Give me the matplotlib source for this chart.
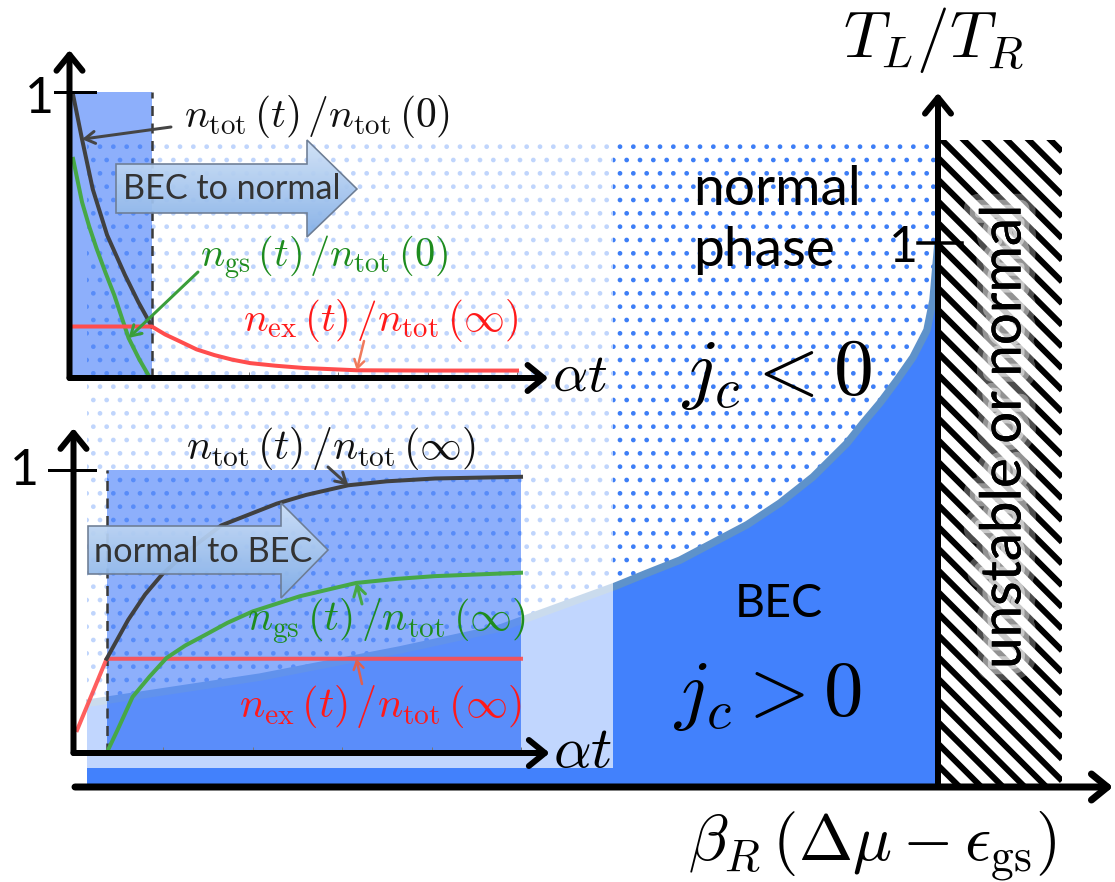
import numpy as np
import matplotlib
matplotlib.use('Agg')
import matplotlib.pyplot as plt
import matplotlib.patheffects as pe
from matplotlib.collections import LineCollection
from matplotlib.colors import to_rgb
from matplotlib.patches import Rectangle, Polygon, PathPatch
from matplotlib.path import Path

W, H, DPI = 1115, 882, 80
PT = 72.0 / DPI   # one pixel in points

plt.rcParams['mathtext.fontset'] = 'cm'
plt.rcParams['font.family'] = ['Lato', 'DejaVu Sans']

# phase boundary T_L/T_R versus beta_R (dmu - e_gs), j_c = 0 on it
bound_x = np.array([-8.51, -6.78, -5.38, -4.38, -3.23, -2.91, -2.58, -2.25, -1.91,
                    -1.58, -1.25, -0.91, -0.75, -0.58, -0.41, -0.25, -0.11, -0.05, 0.0])
bound_T = np.array([0.154, 0.202, 0.252, 0.292, 0.369, 0.393, 0.417, 0.449, 0.482,
                    0.522, 0.570, 0.632, 0.669, 0.706, 0.748, 0.790, 0.840, 0.895, 1.0])
T_TOP = 1.19      # top of the shaded regions
X_UNST = 1.24     # right end of the unstable strip

# upper inset: BEC -> normal
up_t0 = 0.92
up_tot_t = np.array([0.04, 0.14, 0.26, 0.42, 0.62, 0.77, 0.92])
up_tot = np.array([0.99, 0.835, 0.66, 0.50, 0.36, 0.265, 0.18])
up_gs_t = np.array([0.04, 0.14, 0.22, 0.30, 0.40, 0.50, 0.58, 0.66, 0.78, 0.90])
up_gs = np.array([0.766, 0.615, 0.53, 0.455, 0.37, 0.29, 0.215, 0.14, 0.065, 0.0])
up_ex_t = np.array([0.04, 0.92, 1.07, 1.22, 1.42, 1.62, 1.82, 2.02, 2.30, 2.62, 3.21,
                    4.0, 5.0])
up_ex = np.array([0.18, 0.18, 0.152, 0.13, 0.10, 0.08, 0.064, 0.052, 0.043, 0.035,
                  0.027, 0.026, 0.026])
up_ticks = [2, 3, 4, 5]

# lower inset: normal -> BEC
lo_t0 = 0.37
lo_t_end = 5.0
lo_tot_t = np.array([0.37, 0.61, 0.80, 0.99, 1.30, 1.65, 2.27, 2.60, 3.07, 3.50,
                     4.04, 5.0])
lo_tot = np.array([0.333, 0.47, 0.56, 0.631, 0.72, 0.804, 0.881, 0.912, 0.946, 0.960,
                   0.970, 0.976])
lo_gs_t = np.array([0.37, 0.49, 0.66, 0.85, 1.04, 1.25, 1.47, 1.72, 2.00, 2.53, 3.16,
                    3.60, 4.04, 5.0])
lo_gs = np.array([0.0, 0.08, 0.198, 0.27, 0.336, 0.38, 0.417, 0.46, 0.50, 0.554, 0.601,
                  0.615, 0.625, 0.637])
lo_ex_t = np.array([0.04, 0.37, 5.0])
lo_ex = np.array([0.081, 0.333, 0.333])
lo_ticks = [1, 2, 3, 4, 5]

BLUE = '#4281fc'
DOT = '#3d7ef6'
BAND = '#5e92ca'
SHADE = '#6392fa'
C_TOT, C_GS, C_EX = '#404040', '#46a846', '#ff4d4d'
T_GS, T_EX = '#1e8c1e', '#ff1a1a'

fig = plt.figure(figsize=(W / DPI, H / DPI), dpi=DPI)


def axes_at(box, origin, scale, z):
    # box in pixels (left, right, top, bottom); origin/scale map data -> pixels
    x0, x1, ytop, ybot = box
    a = fig.add_axes([x0 / W, 1 - ybot / H, (x1 - x0) / W, (ybot - ytop) / H], zorder=z)
    a.set_xlim((x0 - origin[0]) / scale[0], (x1 - origin[0]) / scale[0])
    a.set_ylim((origin[1] - ybot) / scale[1], (origin[1] - ytop) / scale[1])
    a.set_autoscale_on(False)
    a.set_axis_off()
    return a


ax = axes_at((0, W, 0, H), (938, 787), (100, 544), 0)
canvas = axes_at((0, W, 0, H), (0, 0), (1, -1), 1)
ax_lo = axes_at((0, 640, 400, 790), (73.5, 753), (89.5, 283), 2)
ax_up = axes_at((0, 640, 20, 410), (69.5, 378), (89.5, 286), 3)
PX = canvas.transData
renderer = fig.canvas.get_renderer()


def arrow(a, p0, p1, lw, hl=16, hw=13, color='black', coords='data', z=6):
    a.annotate('', xy=p1, xytext=p0, xycoords=coords, textcoords=coords,
               annotation_clip=False, zorder=z,
               arrowprops=dict(arrowstyle=f'->,head_length={hl * PT},head_width={hw * PT}',
                               lw=lw * PT, color=color, shrinkA=0, shrinkB=0,
                               mutation_scale=1, capstyle='round', joinstyle='round'))


def pointer(a, start_px, xy, color, lw=3, hl=10, hw=6):
    a.annotate('', xy=xy, xycoords='data', xytext=start_px, textcoords=PX,
               annotation_clip=False, zorder=7,
               arrowprops=dict(arrowstyle=f'->,head_length={hl * PT},head_width={hw * PT}',
                               lw=lw * PT, color=color, shrinkA=0, shrinkB=0,
                               mutation_scale=1))


def label(a, s, pos, width=None, height=None, size=40, ha='center', va='center', **kw):
    t = a.text(pos[0], pos[1], s, transform=PX, ha=ha, va=va, fontsize=size * PT,
               zorder=8, **kw)
    if width or height:
        bb = t.get_window_extent(renderer)
        cur = bb.width if width else bb.height
        t.set_fontsize(t.get_fontsize() * (width or height) / cur)
    return t


def block_arrow(a, x0, xb, xt, by, hy, ty, text, base, width):
    # body from x0 to xb, head from xb to tip xt (pixels)
    verts_px = [(x0, by[0]), (xb, by[0]), (xb, hy[0]), (xt, ty),
                (xb, hy[1]), (xb, by[1]), (x0, by[1])]
    verts = a.transData.inverted().transform(PX.transform(verts_px))
    poly = Polygon(verts, closed=True, facecolor='none', edgecolor='#6d7d94',
                   lw=1.6 * PT, zorder=6)
    a.add_patch(poly)
    top, bot = np.array(to_rgb('#cfe1f7')), np.array(to_rgb('#82aee6'))
    g = np.linspace(0, 1, 64)[:, None, None]
    img = top + (bot - top) * g
    im = a.imshow(img, extent=(verts[:, 0].min(), verts[:, 0].max(),
                               verts[:, 1].min(), verts[:, 1].max()),
                  origin='upper', aspect='auto', interpolation='bilinear',
                  alpha=0.94, zorder=5.9)
    im.set_clip_path(poly)
    label(a, text, ((x0 + xt) / 2 - 5, base), width=width, va='baseline', color='#333333')


# ---- main phase diagram ----
with plt.rc_context({'hatch.linewidth': 2.0 * PT}):
    ax.fill(np.r_[bound_x[0], 0.0, bound_x[::-1]], np.r_[T_TOP, T_TOP, bound_T[::-1]],
            facecolor='white', edgecolor=DOT, lw=0, hatch='.', zorder=1)
ax.fill_between(bound_x, 0, bound_T, facecolor=BLUE, lw=0, zorder=2)
ax.plot(bound_x, bound_T, color=BAND, lw=7.5 * PT, zorder=3, solid_capstyle='butt')

# unstable strip, 45 degree stripes
strip = Rectangle((0, 0), X_UNST, T_TOP, facecolor='white', lw=0, zorder=2)
ax.add_patch(strip)
k = 100 / 544
offs = np.arange(0, T_TOP + k * X_UNST + 0.1, 0.217 * k)
lc = LineCollection([[(0, c), (X_UNST, c - k * X_UNST)] for c in offs],
                    colors='black', linewidths=6 * PT, zorder=3)
ax.add_collection(lc)
lc.set_clip_path(strip)

arrow(ax, (-8.63, 0), (1.75, 0), lw=7)
arrow(ax, (0, 0), (0, 1.276), lw=6)
ax.plot([-0.2, 0.24], [1.0, 1.0], color='black', lw=3.5 * PT, zorder=6)

label(ax, '1', (903, 262), size=50, va='baseline')
label(ax, r'$T_L/T_R$', (933, 40), width=182)
label(ax, r'$\beta_R\,(\Delta\mu-\epsilon_{\rm gs})$', (872, 846), width=370)
t_norm = label(ax, 'normal', (693, 205), width=168, ha='left', va='baseline')
label(ax, 'phase', (693, 266), size=t_norm.get_fontsize() / PT, ha='left', va='baseline')
label(ax, r'$j_c<0$', (777, 375), width=193)
label(ax, 'BEC', (779, 617), width=88, va='baseline')
label(ax, r'$j_c>0$', (768, 697), width=191)
label(ax, 'unstable or normal', (1005, 437), height=465, rotation=90,
      path_effects=[pe.withStroke(linewidth=30 * PT, foreground='white', alpha=0.3),
                    pe.withStroke(linewidth=18 * PT, foreground='white', alpha=0.4),
                    pe.withStroke(linewidth=8 * PT, foreground='white', alpha=0.5),
                    pe.Normal()])

# ---- light veil behind the insets, leaving the shaded intervals clear ----
lo_box = PX.inverted().transform(ax_lo.transData.transform([(lo_t0, 0), (lo_t_end, 1)]))
up_box = PX.inverted().transform(ax_up.transData.transform([(0, 0), (up_t0, 1)]))
vx0, vx1, vy0, vy1 = 87, 613, 140, 768


def ring(x0, x1, y0, y1, rev=False):
    pts = [(x0, y0), (x1, y0), (x1, y1), (x0, y1)]
    if rev:
        pts = pts[::-1]
    return pts + [pts[0]], [Path.MOVETO, Path.LINETO, Path.LINETO, Path.LINETO, Path.CLOSEPOLY]


parts = [ring(vx0, vx1, vy0, vy1),
         ring(lo_box[0, 0], lo_box[1, 0], lo_box[1, 1], lo_box[0, 1], rev=True),
         ring(max(up_box[0, 0], vx0), up_box[1, 0], vy0, min(up_box[0, 1], vy1), rev=True)]
verts = sum([p[0] for p in parts], [])
codes = sum([p[1] for p in parts], [])
canvas.add_patch(PathPatch(Path(verts, codes), facecolor='white', alpha=0.68, lw=0))

# ---- upper inset ----
ax_up.add_patch(Rectangle((0, 0), up_t0, 1, facecolor=SHADE, alpha=0.73, lw=0, zorder=1))
ax_up.plot([up_t0, up_t0], [0, 1], color='#3a3a3a', lw=2.5 * PT, ls=(0, (4, 3)), zorder=2)
ax_up.plot(up_tot_t, up_tot, color=C_TOT, lw=4 * PT, zorder=3)
ax_up.plot(up_gs_t, up_gs, color=C_GS, lw=4 * PT, zorder=3)
ax_up.plot(up_ex_t, up_ex, color=C_EX, lw=4 * PT, zorder=3.5)
ax_up.vlines(up_ticks, 0, 0.02, color='#777777', lw=1 * PT, zorder=3)
arrow(ax_up, (0, 0), (0, 1.147), lw=6)
arrow(ax_up, (0, 0), (5.35, 0), lw=6)
ax_up.plot([-0.16, 0.285], [1, 1], color='black', lw=3 * PT, zorder=6)
label(ax_up, '1', (39, 113), size=50, va='baseline')
label(ax_up, r'$\alpha t$', (580, 376), width=56)
block_arrow(ax_up, 116, 307, 357, (164, 213), (140, 237), 189, 'BEC to normal', 199, 218)
label(ax_up, r'$n_{\rm tot}\,(t)\,/n_{\rm tot}\,(0)$', (317, 116), width=266, color='#111111')
label(ax_up, r'$n_{\rm gs}\,(t)\,/n_{\rm tot}\,(0)$', (324, 258), width=248, color=T_GS)
label(ax_up, r'$n_{\rm ex}\,(t)\,/n_{\rm tot}\,(\infty)$', (380, 320), width=275, color=T_EX)
pointer(ax_up, (171, 127), (up_tot_t[1], up_tot[1]), '#454545')
pointer(ax_up, (198, 272), (up_gs_t[7], up_gs[7]), '#3a9e3a')
pointer(ax_up, (364, 341), (up_ex_t[10], up_ex[10]), '#f07a5c', lw=2.5, hl=8, hw=5)

# ---- lower inset ----
ax_lo.add_patch(Rectangle((lo_t0, 0), lo_t_end - lo_t0, 1, facecolor=SHADE, alpha=0.73,
                          lw=0, zorder=1))
ax_lo.plot([lo_t0, lo_t0], [0, 1], color='#3a3a3a', lw=2.5 * PT, ls=(0, (4, 3)), zorder=2)
ax_lo.plot(lo_ex_t, lo_ex, color=C_EX, lw=4 * PT, zorder=3, alpha=0.9)
ax_lo.plot(lo_gs_t, lo_gs, color=C_GS, lw=4 * PT, zorder=3.2)
ax_lo.plot(lo_tot_t, lo_tot, color=C_TOT, lw=4 * PT, zorder=3.4)
ax_lo.vlines(lo_ticks, 0, 0.02, color='#777777', lw=1 * PT, zorder=3)
arrow(ax_lo, (0, 0), (0, 1.148), lw=6)
arrow(ax_lo, (0, 0), (5.32, 0), lw=6)
ax_lo.plot([-0.27, 0.24], [1, 1], color='black', lw=3 * PT, zorder=6)
label(ax_lo, '1', (24, 485), size=50, va='baseline')
label(ax_lo, r'$\alpha t$', (583, 750), width=60)
block_arrow(ax_lo, 88, 281, 328, (526, 574), (503, 598), 550, 'normal to BEC', 562, 219)
label(ax_lo, r'$n_{\rm tot}\,(t)\,/n_{\rm tot}\,(\infty)$', (331, 449), width=290, color='#111111')
label(ax_lo, r'$n_{\rm gs}\,(t)\,/n_{\rm tot}\,(\infty)$', (386, 621), width=279, color=T_GS)
label(ax_lo, r'$n_{\rm ex}\,(t)\,/n_{\rm tot}\,(\infty)$', (380, 707), width=283, color=T_EX)
pointer(ax_lo, (328, 467), (lo_tot_t[8], lo_tot[8]), '#454545')
pointer(ax_lo, (362, 604), (lo_gs_t[10], lo_gs[10]), '#46a846')
pointer(ax_lo, (362, 684), (lo_gs_t[10], lo_ex[-1]), '#e0604f', lw=2.5, hl=8, hw=5)

fig.savefig('out.png', dpi=DPI)
